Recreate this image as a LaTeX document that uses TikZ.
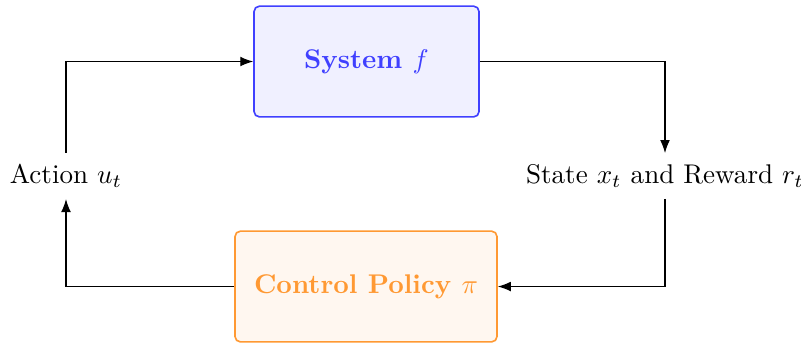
\documentclass[tikz,border=0pt]{standalone}
\usetikzlibrary{arrows.meta}

\begin{document}
\begin{tikzpicture}[
		block/.style={rectangle, rounded corners=2pt, semithick, minimum height=1.44cm, font=\bfseries},
		label/.style={inner sep=4pt},
		>={Latex}
	]
		\useasboundingbox (0,0) rectangle (10.413,-4.485);

		% Blocks
		\node[block, draw=blue!75, fill=blue!6, text=blue!75, minimum width=2.925cm] (sys) at (4.765,-0.80) {System $f$};
		\node[block, draw=orange!80, fill=orange!6, text=orange!80, minimum width=3.406cm] (pol) at (4.758,-3.725) {Control Policy $\pi$};

		% Signals
		\node[label] (act) at (0.858,-2.288) {Action $u_t$};
		\node[label] (obs) at (8.645,-2.288) {State $x_t$ and Reward $r_t$};

		% Loop
		\draw[->] (act) |- (sys);
		\draw[->] (sys) -| (obs);
		\draw[->] (obs) |- (pol);
		\draw[->] (pol) -| (act);
	\end{tikzpicture}
\end{document}
